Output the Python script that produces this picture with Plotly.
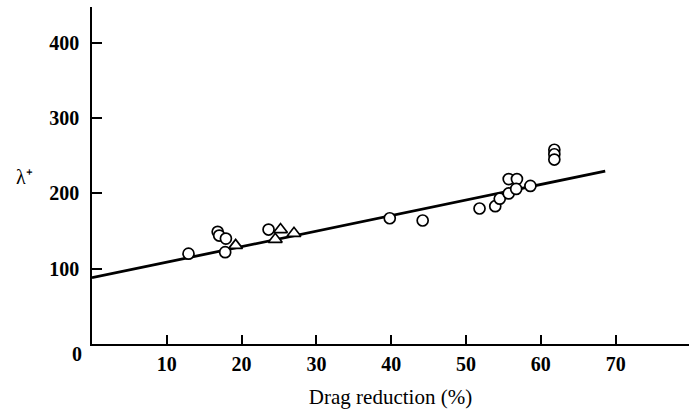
import plotly.graph_objects as go

# Data
circle_x = [12.9, 16.8, 17.0, 17.9, 17.8, 23.6, 39.8, 44.2, 51.8, 53.9, 54.5,
            55.7, 55.7, 56.8, 56.7, 58.6, 61.8, 61.8, 61.8]
circle_y = [120, 149, 144, 140, 122, 152, 167, 164, 180, 183, 193,
            200, 219, 219, 206, 210, 258, 252, 245]
tri_x = [19.2, 24.5, 25.2, 27.0]
tri_y = [131, 139, 152, 147]

fit_intercept = 88
fit_slope = 2.065
fit_x = [0, 68.6]
fit_y = [fit_intercept + fit_slope * v for v in fit_x]

x_ticks = [10, 20, 30, 40, 50, 60, 70]
y_ticks = [100, 200, 300, 400]

FONT = "Liberation Serif"

fig = go.Figure()
fig.add_trace(go.Scatter(x=fit_x, y=fit_y, mode="lines",
                         line=dict(color="black", width=2.8),
                         showlegend=False, hoverinfo="skip"))
fig.add_trace(go.Scatter(x=circle_x, y=circle_y, mode="markers",
                         marker=dict(symbol="circle", size=11, color="white",
                                     line=dict(color="black", width=1.7)),
                         showlegend=False, cliponaxis=False))
fig.add_trace(go.Scatter(x=tri_x, y=tri_y, mode="markers",
                         marker=dict(symbol="triangle-up", size=12, color="white",
                                     line=dict(color="black", width=1.7)),
                         showlegend=False, cliponaxis=False))

tick_font = dict(family=FONT, size=20, color="black", weight="bold")

fig.update_layout(
    width=689, height=409,
    margin=dict(l=92, r=0, t=7, b=65),
    paper_bgcolor="white", plot_bgcolor="white",
    font=dict(family=FONT, size=20, color="black"),
    xaxis=dict(range=[0, 79.8], tickvals=x_ticks, ticktext=[str(v) for v in x_ticks],
               ticks="inside", ticklen=9, tickwidth=1.5, tickcolor="black",
               showline=True, linecolor="black", linewidth=1.6,
               showgrid=False, zeroline=False, ticklabelstandoff=1,
               tickfont=tick_font,
               title=dict(text="Drag reduction (%)", font=dict(family=FONT, size=21),
                          standoff=16)),
    yaxis=dict(range=[0, 447.6], tickvals=y_ticks, ticktext=[str(v) for v in y_ticks],
               ticks="inside", ticklen=10, tickwidth=1.5, tickcolor="black",
               showline=True, linecolor="black", linewidth=1.6,
               showgrid=False, zeroline=False, ticklabelstandoff=7,
               tickfont=tick_font),
    annotations=[
        dict(text="λ⁺", xref="paper", yref="y", x=0, y=222, xshift=-68,
             showarrow=False, font=dict(family=FONT, size=20), xanchor="center", yanchor="middle"),
        dict(text="0", xref="paper", yref="y", x=0, y=0, xshift=-8, yshift=-10,
             showarrow=False, font=tick_font, xanchor="right", yanchor="middle"),
    ],
)

fig.write_html("out.html", config={"displayModeBar": False},
               post_script="document.body.style.margin='0';document.body.style.overflow='hidden';")
